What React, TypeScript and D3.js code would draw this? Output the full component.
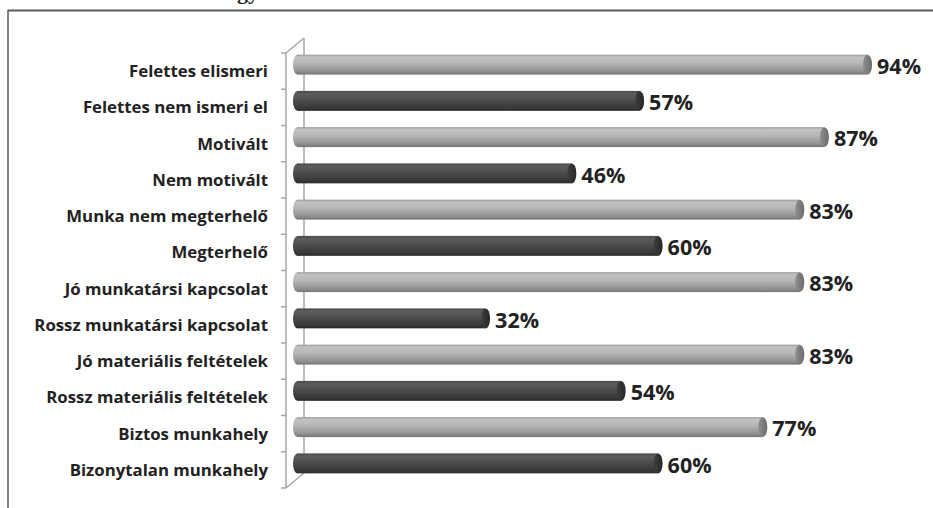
import React from "react";
import * as d3 from "d3";

// Categories (top to bottom) and their percentages
const categories = [
  "Felettes elismeri",
  "Felettes nem ismeri el",
  "Motivált",
  "Nem motivált",
  "Munka nem megterhelő",
  "Megterhelő",
  "Jó munkatársi kapcsolat",
  "Rossz munkatársi kapcsolat",
  "Jó materiális feltételek",
  "Rossz materiális feltételek",
  "Biztos munkahely",
  "Bizonytalan munkahely",
];
const values = [94, 57, 87, 46, 83, 60, 83, 32, 83, 54, 77, 60];
// Alternating tone: positive factor (light) vs. negative factor (dark)
const tones = ["light", "dark", "light", "dark", "light", "dark", "light", "dark", "light", "dark", "light", "dark"];

const W = 933;
const H = 508;

export default function App() {
  // front plane of the 3D axis wall
  const frontX = 286;
  const top = 53;
  const bottom = 488;
  const depthX = 18;
  const depthY = -15;

  const y = d3.scaleBand<string>().domain(categories).range([top, bottom]).paddingInner(0.45).paddingOuter(0.225);
  const band = d3.scaleBand<string>().domain(categories).range([top, bottom]);
  const x = d3.scaleLinear().domain([0, 100]).range([293, 909]);

  const barShift = -6.5; // bars sit halfway into the depth of the wall
  const rx = 4.5;
  const h = y.bandwidth();

  const ticks = d3.range(categories.length + 1).map((i) => top + i * band.step());

  return (
    <svg width={W} height={H} style={{ position: "absolute", left: 0, top: 0, background: "#fff" }}>
      <defs>
        <linearGradient id="gLight" x1="0" y1="0" x2="0" y2="1">
          <stop offset="0%" stopColor="#9a9a9a" />
          <stop offset="12%" stopColor="#c2c2c2" />
          <stop offset="40%" stopColor="#b8b8b8" />
          <stop offset="80%" stopColor="#959595" />
          <stop offset="100%" stopColor="#757575" />
        </linearGradient>
        <linearGradient id="gDark" x1="0" y1="0" x2="0" y2="1">
          <stop offset="0%" stopColor="#4a4a4a" />
          <stop offset="15%" stopColor="#5c5c5c" />
          <stop offset="45%" stopColor="#4d4d4d" />
          <stop offset="85%" stopColor="#383838" />
          <stop offset="100%" stopColor="#2a2a2a" />
        </linearGradient>
        <linearGradient id="cLight" x1="0" y1="0" x2="1" y2="0">
          <stop offset="0%" stopColor="#8e8e8e" />
          <stop offset="100%" stopColor="#6c6c6c" />
        </linearGradient>
        <linearGradient id="cDark" x1="0" y1="0" x2="1" y2="0">
          <stop offset="0%" stopColor="#3e3e3e" />
          <stop offset="100%" stopColor="#262626" />
        </linearGradient>
      </defs>

      {/* title fragment above the frame */}
      <text x={237} y={-1} fontFamily="'Liberation Serif', serif" fontWeight="bold" fontSize={22} fill="#222">
        gy
      </text>

      {/* frame */}
      <line x1={8} y1={10.5} x2={W} y2={10.5} stroke="#5a5a5a" strokeWidth={2} />
      <line x1={8} y1={10} x2={8} y2={H} stroke="#5a5a5a" strokeWidth={1.5} />

      {/* 3D category axis wall */}
      <g stroke="#a6a6a6" strokeWidth={1.5} fill="none">
        <line x1={frontX} y1={top} x2={frontX} y2={bottom} />
        <line x1={frontX + depthX} y1={top + depthY} x2={frontX + depthX} y2={bottom + depthY} />
        <line x1={frontX} y1={top} x2={frontX + depthX} y2={top + depthY} />
        <line x1={frontX} y1={bottom} x2={frontX + depthX} y2={bottom + depthY} />
        {ticks.map((t, i) => (
          <line key={i} x1={frontX - 5} y1={t} x2={frontX} y2={t} />
        ))}
      </g>

      {/* cylinders */}
      {categories.map((c, i) => {
        const y0 = (y(c) as number) + barShift;
        const cy = y0 + h / 2;
        const xs = x(0) + rx;
        const xe = x(values[i]) - rx;
        const light = tones[i] === "light";
        return (
          <g key={c}>
            <ellipse cx={xs} cy={cy} rx={rx} ry={h / 2} fill={light ? "url(#gLight)" : "url(#gDark)"} />
            <rect x={xs} y={y0} width={xe - xs} height={h} fill={light ? "url(#gLight)" : "url(#gDark)"} />
            <ellipse cx={xe} cy={cy} rx={rx} ry={h / 2} fill={light ? "url(#cLight)" : "url(#cDark)"} />
          </g>
        );
      })}

      {/* category labels */}
      {categories.map((c) => (
        <text
          key={c}
          x={268}
          y={(band(c) as number) + band.bandwidth() / 2}
          dy="0.35em"
          textAnchor="end"
          fontFamily="'Open Sans', sans-serif"
          fontWeight="bold"
          fontSize={16.8}
          fill="#222"
        >
          {c}
        </text>
      ))}

      {/* value labels */}
      {categories.map((c, i) => (
        <text
          key={c}
          x={x(values[i]) + 5}
          y={(y(c) as number) + barShift + h / 2 + 1.5}
          dy="0.36em"
          fontFamily="'Open Sans', sans-serif"
          fontWeight="bold"
          fontSize={21.5}
          fill="#222"
        >
          {values[i]}%
        </text>
      ))}
    </svg>
  );
}
